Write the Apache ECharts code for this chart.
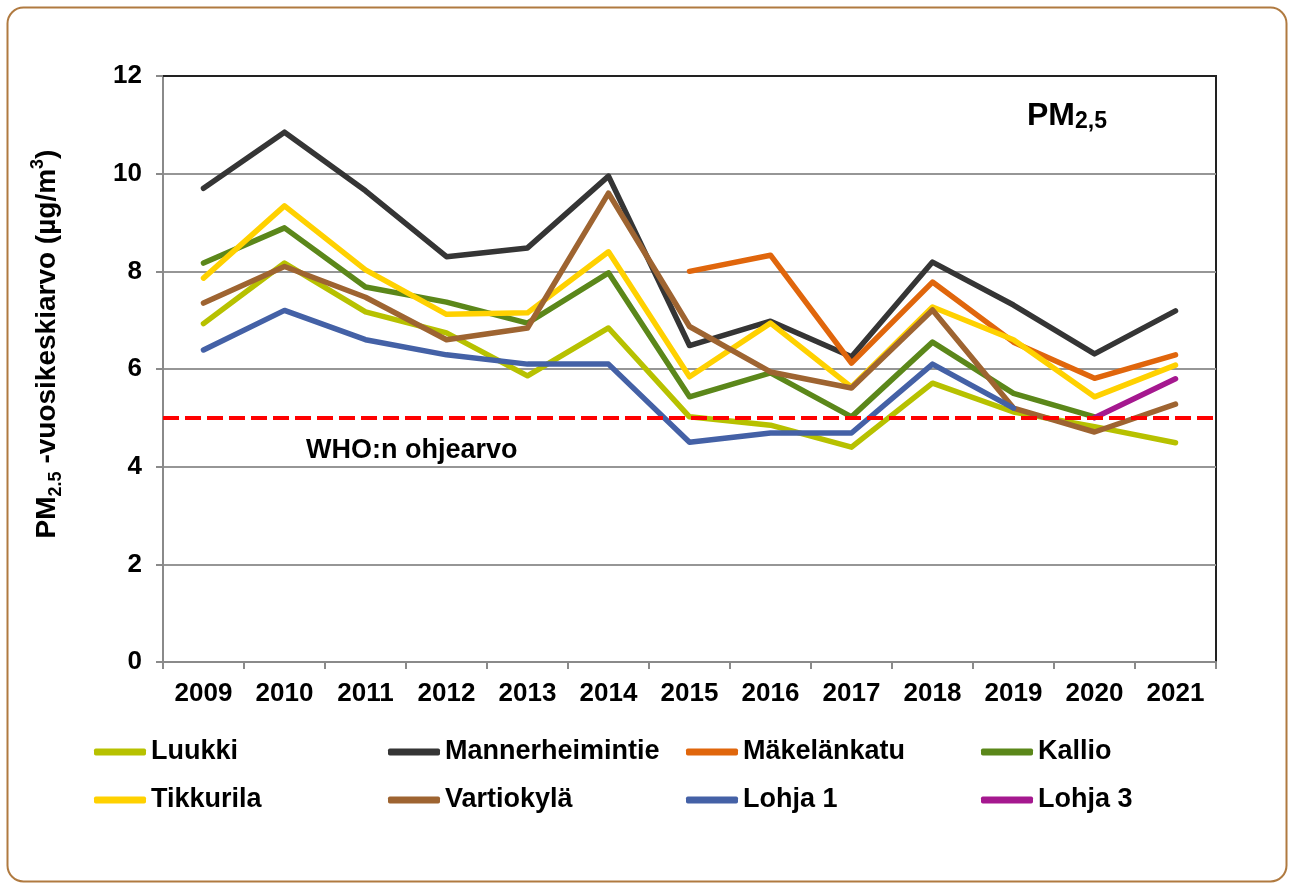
<!DOCTYPE html>
<html>
<head>
<meta charset="utf-8">
<script src="https://cdn.jsdelivr.net/npm/echarts@6/dist/echarts.min.js"></script>
<style>
  html, body { margin: 0; padding: 0; background: #fff; }
  #chart { width: 1290px; height: 888px; }
</style>
</head>
<body>
<div id="chart"></div>
<script>
// vuodet ja asemien PM2.5-vuosikeskiarvot (µg/m3), luettu kuvasta
const years = ['2009', '2010', '2011', '2012', '2013', '2014', '2015', '2016', '2017', '2018', '2019', '2020', '2021'];
const luukki = [6.93, 8.17, 7.17, 6.74, 5.86, 6.84, 5.02, 4.85, 4.40, 5.71, 5.12, 4.82, 4.49];
const mannerheimintie = [9.70, 10.85, 9.65, 8.30, 8.48, 9.95, 6.48, 6.98, 6.25, 8.19, 7.31, 6.31, 7.19];
const makelankatu = [null, null, null, null, null, null, 8.00, 8.33, 6.12, 7.78, 6.55, 5.81, 6.29];
const kallio = [8.17, 8.89, 7.68, 7.37, 6.94, 7.97, 5.43, 5.92, 5.02, 6.55, 5.50, 5.02, null];
const tikkurila = [7.86, 9.34, 8.03, 7.12, 7.15, 8.40, 5.84, 6.94, 5.63, 7.27, 6.60, 5.43, 6.08];
const vartiokyla = [7.35, 8.10, 7.47, 6.60, 6.84, 9.60, 6.87, 5.94, 5.61, 7.21, 5.20, 4.71, 5.28];
const lohja1 = [6.39, 7.20, 6.60, 6.29, 6.10, 6.10, 4.50, 4.69, 4.69, 6.10, 5.20, null, null];
const lohja3 = [null, null, null, null, null, null, null, null, null, null, null, 5.00, 5.80];
const whoLimit = 5;
const yTicks = [0, 12, 2]; // min, max, interval

const stations = [
  { name: 'Luukki', data: luukki, color: '#B7C100' },
  { name: 'Mannerheimintie', data: mannerheimintie, color: '#353535' },
  { name: 'Mäkelänkatu', data: makelankatu, color: '#E0660C' },
  { name: 'Kallio', data: kallio, color: '#5B871A' },
  { name: 'Tikkurila', data: tikkurila, color: '#FFD100' },
  { name: 'Vartiokylä', data: vartiokyla, color: '#9E6431' },
  { name: 'Lohja 1', data: lohja1, color: '#4461A6' },
  { name: 'Lohja 3', data: lohja3, color: '#A5188F' }
];

const font = "'Liberation Sans', Arial, sans-serif";
const legendLeft = [94, 388, 686, 981];
const legendTop = [737, 785];

const chart = echarts.init(document.getElementById('chart'));

const series = stations.map(s => ({
  name: s.name,
  type: 'line',
  data: s.data,
  color: s.color,
  symbol: 'none',
  connectNulls: false,
  lineStyle: { width: 5.5, color: s.color, cap: 'round', join: 'round' }
}));
series.push({
  name: 'WHO',
  type: 'line',
  data: [],
  z: 5,
  markLine: {
    silent: true,
    symbol: ['none', 'none'],
    label: { show: false },
    lineStyle: { color: '#ff0000', width: 4, type: [16, 6] },
    data: [{ yAxis: whoLimit }]
  }
});

const legends = stations.map((s, i) => ({
  data: [s.name],
  left: legendLeft[i % 4],
  top: legendTop[Math.floor(i / 4)],
  padding: 0,
  icon: 'roundRect',
  itemWidth: 52,
  itemHeight: 7,
  selectedMode: false,
  textStyle: { fontFamily: font, fontWeight: 'bold', fontSize: 27, color: '#000', lineHeight: 30 }
}));

const option = {
  animation: false,
  backgroundColor: '#fff',
  grid: {
    left: 163, right: 74, top: 76, bottom: 226,
    show: true, borderColor: '#222', borderWidth: 2
  },
  xAxis: {
    type: 'category',
    data: years,
    boundaryGap: true,
    axisLine: { lineStyle: { color: '#8a8a8a', width: 2 } },
    axisTick: { show: true, length: 7, lineStyle: { color: '#8a8a8a', width: 2 } },
    axisLabel: { interval: 0, margin: 19, color: '#000', fontFamily: font, fontWeight: 'bold', fontSize: 26 },
    splitLine: { show: false }
  },
  yAxis: {
    type: 'value',
    min: yTicks[0], max: yTicks[1], interval: yTicks[2],
    axisLine: { show: true, lineStyle: { color: '#8a8a8a', width: 2 } },
    axisTick: { show: true, length: 7, lineStyle: { color: '#8a8a8a', width: 2 } },
    axisLabel: { margin: 21, color: '#000', fontFamily: font, fontWeight: 'bold', fontSize: 26 },
    splitLine: { lineStyle: { color: '#969696', width: 2 } }
  },
  legend: legends,
  series: series,
  graphic: [
    {
      type: 'rect', z: 100, silent: true,
      shape: { x: 7.5, y: 7.5, width: 1279, height: 874, r: 16 },
      style: { fill: 'none', stroke: '#B07A40', lineWidth: 2 }
    },
    {
      type: 'line', z: 100, silent: true,
      shape: { x1: 163, y1: 76, x2: 1216, y2: 76 },
      style: { stroke: '#222', lineWidth: 2 }
    },
    {
      type: 'text', x: 47, y: 344, rotation: Math.PI / 2, silent: true,
      style: {
        text: '{a|PM}{s|2.5}{a| -vuosikeskiarvo (µg/m}{p|3}{a|)}',
        align: 'center', verticalAlign: 'middle',
        rich: {
          a: { fontFamily: font, fontWeight: 'bold', fontSize: 28, lineHeight: 36, fill: '#000' },
          s: { fontFamily: font, fontWeight: 'bold', fontSize: 18, lineHeight: 18, verticalAlign: 'bottom', fill: '#000' },
          p: { fontFamily: font, fontWeight: 'bold', fontSize: 18, lineHeight: 18, verticalAlign: 'top', fill: '#000' }
        }
      }
    },
    {
      type: 'text', x: 306, y: 451, silent: true,
      style: {
        text: 'WHO:n ohjearvo', fill: '#000',
        font: "bold 27px " + font, verticalAlign: 'middle'
      }
    },
    {
      type: 'text', x: 1027, y: 99, silent: true,
      style: {
        text: '{a|PM}{s|2,5}',
        verticalAlign: 'top',
        rich: {
          a: { fontFamily: font, fontWeight: 'bold', fontSize: 32, lineHeight: 34, fill: '#000' },
          s: { fontFamily: font, fontWeight: 'bold', fontSize: 23, lineHeight: 14, verticalAlign: 'bottom', fill: '#000' }
        }
      }
    }
  ]
};

chart.setOption(option);
</script>
</body>
</html>
